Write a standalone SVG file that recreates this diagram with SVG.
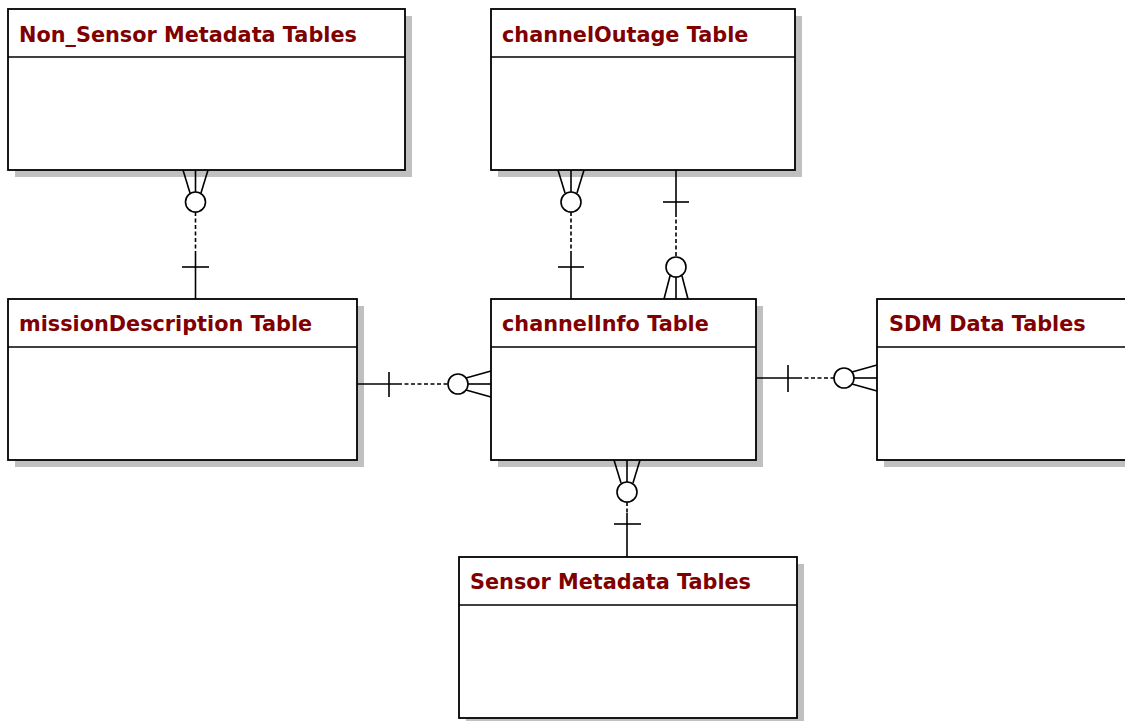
<svg xmlns="http://www.w3.org/2000/svg" width="1125" height="721" viewBox="0 0 1125 721">
<style>
.shadow{fill:#c0c0c0;stroke:none}
.box{fill:#ffffff;stroke:#000;stroke-width:1.8}
.sep{stroke:#000;stroke-width:1.5}
.title{font-family:"DejaVu Sans",Verdana,sans-serif;font-weight:bold;font-size:20.8px;fill:#800000}
.ln{stroke:#000;stroke-width:1.6;fill:none}
.dash{stroke:#000;stroke-width:1.6;fill:none;stroke-dasharray:4,2.5}
.circ{fill:#fff;stroke:#000;stroke-width:1.6}
</style>
<rect width="1125" height="721" fill="#fff"/>
<g id="node-nonsensor">
<rect class="shadow" x="15" y="16" width="397" height="161"/>
<rect class="box" x="8" y="9" width="397" height="161"/>
<line class="sep" x1="8" y1="57" x2="405" y2="57"/>
<text class="title" x="19" y="42">Non_Sensor Metadata Tables</text>
</g>
<g id="node-channeloutage">
<rect class="shadow" x="498" y="16" width="304" height="161"/>
<rect class="box" x="491" y="9" width="304" height="161"/>
<line class="sep" x1="491" y1="57" x2="795" y2="57"/>
<text class="title" x="502" y="42">channelOutage Table</text>
</g>
<g id="node-missiondescription">
<rect class="shadow" x="15" y="306" width="349" height="161"/>
<rect class="box" x="8" y="299" width="349" height="161"/>
<line class="sep" x1="8" y1="347" x2="357" y2="347"/>
<text class="title" x="19" y="331">missionDescription Table</text>
</g>
<g id="node-channelinfo">
<rect class="shadow" x="498" y="306" width="265" height="161"/>
<rect class="box" x="491" y="299" width="265" height="161"/>
<line class="sep" x1="491" y1="347" x2="756" y2="347"/>
<text class="title" x="502" y="331">channelInfo Table</text>
</g>
<g id="node-sdm">
<rect class="shadow" x="884" y="306" width="260" height="161"/>
<rect class="box" x="877" y="299" width="260" height="161"/>
<line class="sep" x1="877" y1="347" x2="1137" y2="347"/>
<text class="title" x="889" y="331">SDM Data Tables</text>
</g>
<g id="node-sensor">
<rect class="shadow" x="466" y="564" width="338" height="161"/>
<rect class="box" x="459" y="557" width="338" height="161"/>
<line class="sep" x1="459" y1="605" x2="797" y2="605"/>
<text class="title" x="470" y="589">Sensor Metadata Tables</text>
</g>
<g id="connectors">
<!-- Non_Sensor (many) to missionDescription (one) -->
<line class="ln" x1="195.5" y1="170" x2="195.5" y2="192"/>
<line class="ln" x1="183" y1="170" x2="190" y2="193"/>
<line class="ln" x1="208" y1="170" x2="201" y2="193"/>
<circle class="circ" cx="195.5" cy="202" r="10"/>
<line class="dash" x1="195.5" y1="212" x2="195.5" y2="255"/>
<line class="ln" x1="195.5" y1="255" x2="195.5" y2="299"/>
<line class="ln" x1="182" y1="267" x2="209" y2="267"/>
<!-- missionDescription (one) to channelInfo (many) -->
<line class="ln" x1="357" y1="384" x2="398" y2="384"/>
<line class="ln" x1="389" y1="372" x2="389" y2="397"/>
<line class="dash" x1="398" y1="384" x2="448" y2="384"/>
<circle class="circ" cx="458" cy="384" r="10"/>
<line class="ln" x1="468" y1="384" x2="491" y2="384"/>
<line class="ln" x1="466" y1="378" x2="491" y2="371"/>
<line class="ln" x1="466" y1="390" x2="491" y2="397"/>
<!-- channelOutage (many) to channelInfo (one) -->
<line class="ln" x1="571" y1="170" x2="571" y2="192"/>
<line class="ln" x1="558" y1="170" x2="565" y2="193"/>
<line class="ln" x1="584" y1="170" x2="577" y2="193"/>
<circle class="circ" cx="571" cy="202" r="10"/>
<line class="dash" x1="571" y1="212" x2="571" y2="255"/>
<line class="ln" x1="571" y1="255" x2="571" y2="299"/>
<line class="ln" x1="558" y1="267" x2="584" y2="267"/>
<!-- channelOutage (one) to channelInfo (many) -->
<line class="ln" x1="676" y1="170" x2="676" y2="213"/>
<line class="ln" x1="663" y1="202" x2="689" y2="202"/>
<line class="dash" x1="676" y1="213" x2="676" y2="257"/>
<circle class="circ" cx="676" cy="267" r="10"/>
<line class="ln" x1="676" y1="277" x2="676" y2="299"/>
<line class="ln" x1="670" y1="276" x2="664" y2="299"/>
<line class="ln" x1="682" y1="276" x2="688" y2="299"/>
<!-- channelInfo (many) to Sensor Metadata (one) -->
<line class="ln" x1="627" y1="460" x2="627" y2="482"/>
<line class="ln" x1="614" y1="460" x2="621" y2="483"/>
<line class="ln" x1="640" y1="460" x2="633" y2="483"/>
<circle class="circ" cx="627" cy="492" r="10"/>
<line class="dash" x1="627" y1="502" x2="627" y2="513"/>
<line class="ln" x1="627" y1="513" x2="627" y2="557"/>
<line class="ln" x1="614" y1="524" x2="641" y2="524"/>
<!-- channelInfo (one) to SDM (many) -->
<line class="ln" x1="756" y1="378" x2="798" y2="378"/>
<line class="ln" x1="788" y1="365" x2="788" y2="392"/>
<line class="dash" x1="798" y1="378" x2="834" y2="378"/>
<circle class="circ" cx="844" cy="378" r="10"/>
<line class="ln" x1="854" y1="378" x2="877" y2="378"/>
<line class="ln" x1="852" y1="372" x2="877" y2="365"/>
<line class="ln" x1="852" y1="384" x2="877" y2="391"/>
</g>
</svg>
